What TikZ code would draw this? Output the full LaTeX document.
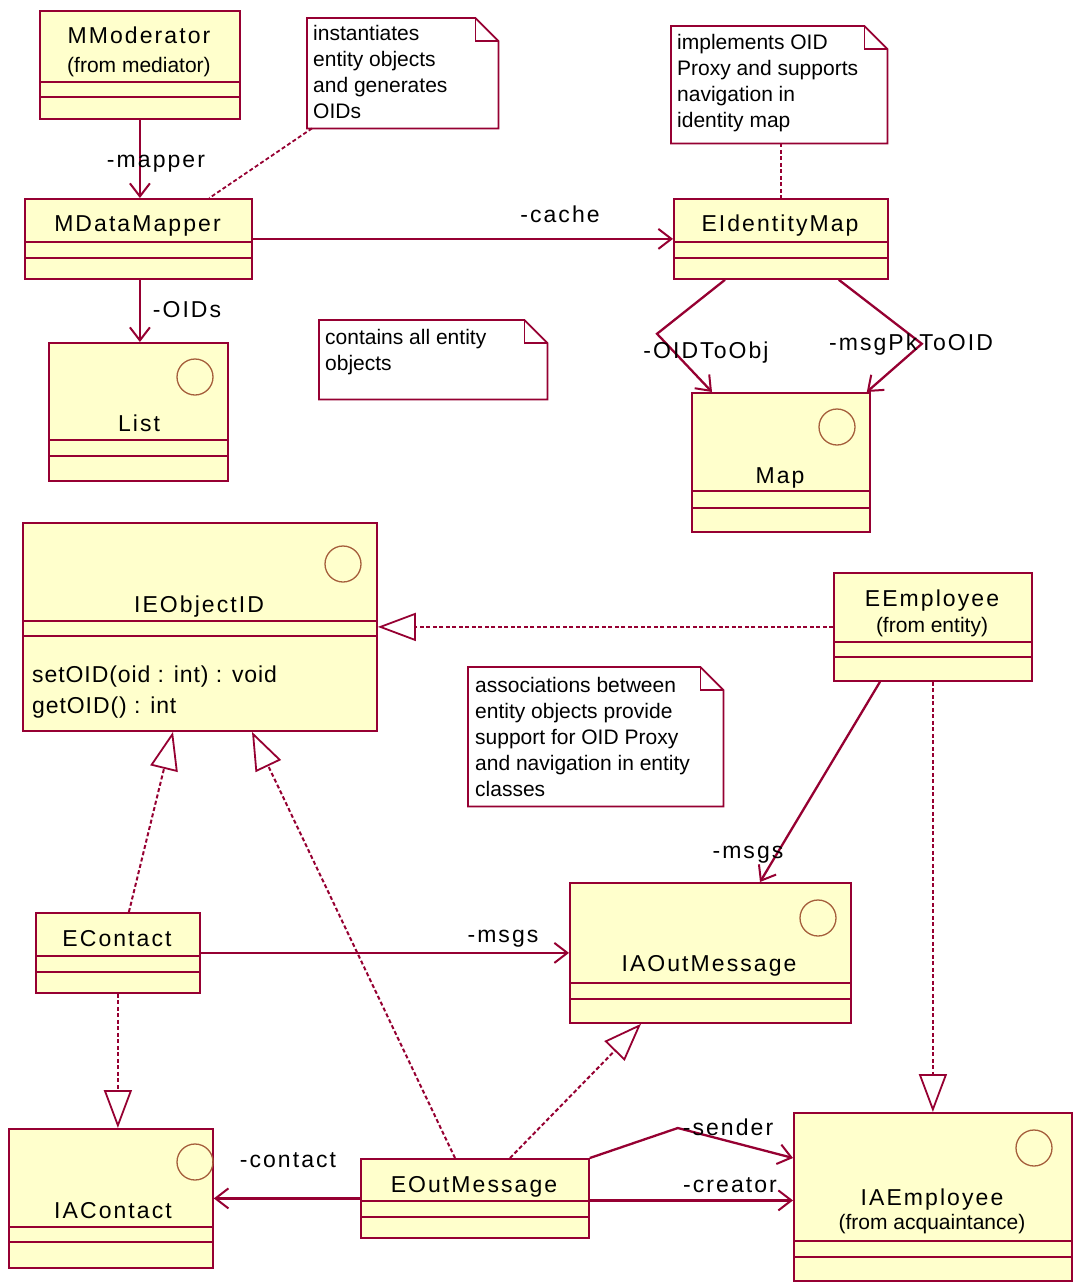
\documentclass[tikz,border=0pt]{standalone}
\usepackage{fontspec}
\setmainfont{Liberation Sans}
\newfontfamily\namefont[LetterSpace=9]{Liberation Sans}
\newfontfamily\opfont[LetterSpace=4]{Liberation Sans}
\usetikzlibrary{arrows.meta,calc}

\definecolor{umlred}{RGB}{150,0,50}
\definecolor{umlfill}{RGB}{255,255,204}
\definecolor{umlring}{RGB}{165,95,60}

\tikzset{
  classbox/.style={rectangle, draw=umlred, fill=umlfill, line width=1.8pt, inner sep=0pt, anchor=north west},
  notebox/.style={rectangle, fill=white, inner sep=0pt, anchor=north west},
  noteline/.style={draw=umlred, line width=1.8pt, line join=miter},
  comp/.style={draw=umlred, line width=1.5pt},
  ring/.style={draw=umlring, line width=1.3pt},
  title/.style={font=\namefont\fontsize{23}{27}\selectfont, inner sep=0pt, anchor=base},
  subtitle/.style={font=\fontsize{21}{25}\selectfont, inner sep=0pt, anchor=base},
  ops/.style={font=\opfont\fontsize{23}{27}\selectfont, inner sep=0pt, anchor=base west},
  notetext/.style={font=\fontsize{21}{26}\selectfont, inner sep=0pt, anchor=north west, align=left},
  role/.style={font=\namefont\fontsize{23}{27}\selectfont, inner sep=0pt, anchor=base},
  assoc/.style={draw=umlred, line width=2.3pt, -{Straight Barb[length=13pt,width=20pt,line width=2pt]}},
  realize/.style={draw=umlred, line width=2pt, dash pattern=on 4pt off 2.5pt,
    -{Triangle[open,length=38pt,width=28pt,line width=1.8pt]}},
  noteanchor/.style={draw=umlred, line width=1.8pt, dash pattern=on 4pt off 2.5pt},
}

% class box: name, x1, y1, x2, y2, y of first and second compartment line
\newcommand\umlclass[7]{%
  \node[classbox, minimum width={(#4-#2)*1pt}, minimum height={(#5-#3)*1pt}] (#1) at (#2,#3) {};
  \draw[comp] (#2,#6) -- (#4,#6) (#2,#7) -- (#4,#7);
}
% note with folded corner: name, x1, y1, x2, y2
\newcommand\umlnote[5]{%
  \node[notebox, minimum width={(#4-#2)*1pt}, minimum height={(#5-#3)*1pt}] (#1) at (#2,#3) {};
  \draw[noteline] (#1.north west) -- ([xshift=-23pt]#1.north east) -- ([yshift=-23pt]#1.north east)
    -- (#1.south east) -- (#1.south west) -- cycle;
  \draw[noteline] ([xshift=-23pt]#1.north east) -- ([xshift=-23pt,yshift=-23pt]#1.north east)
    -- ([yshift=-23pt]#1.north east);
}

\begin{document}
\begin{tikzpicture}[x=1pt,y=-1pt]
\fill[white] (0,0) rectangle (1076,1282);
\useasboundingbox (0,0) rectangle (1076,1282);

% ---------- classes ----------
\umlclass{mmod}{39}{10}{239}{118}{82}{97}
\node[title] (mmodt) at (139,43) {MModerator};
\node[subtitle] (mmods) at (139,72) {(from mediator)};

\umlclass{mdm}{24}{198}{251}{278}{242}{258}
\node[title] (mdmt) at (137.5,231) {MDataMapper};

\umlclass{eid}{673}{198}{887}{278}{242}{258}
\node[title] (eidt) at (780,231) {EIdentityMap};

\umlclass{list}{48}{342}{227}{480}{440}{456}
\draw[ring] (195,377) circle[radius=18pt];
\node[title] (listt) at (139,431) {List};

\umlclass{map}{691}{392}{869}{531}{491}{508}
\draw[ring] (837,427) circle[radius=18pt];
\node[title] (mapt) at (780,483) {Map};

\umlclass{ieo}{22}{522}{376}{730}{621}{636}
\draw[ring] (343,564) circle[radius=18pt];
\node[title] (ieot) at (199,612) {IEObjectID};
\node[ops] (ieoop1) at (32,682) {setOID(oid : int) : void};
\node[ops] (ieoop2) at (32,713) {getOID() : int};

\umlclass{eemp}{833}{572}{1031}{680}{642}{657}
\node[title] (eempt) at (932,606) {EEmployee};
\node[subtitle] (eemps) at (932,632) {(from entity)};

\umlclass{iaout}{569}{882}{850}{1022}{983}{999}
\draw[ring] (818,918) circle[radius=18pt];
\node[title] (iaoutt) at (709,971) {IAOutMessage};

\umlclass{econ}{35}{912}{199}{992}{956}{972}
\node[title] (econt) at (117,946) {EContact};

\umlclass{iacon}{8}{1128}{212}{1267}{1227}{1242}
\draw[ring] (195,1162) circle[radius=18pt];
\node[title] (iacont) at (113,1218) {IAContact};

\umlclass{eout}{360}{1158}{588}{1237}{1201}{1217}
\node[title] (eoutt) at (474,1192) {EOutMessage};

\umlclass{iaemp}{793}{1112}{1071}{1280}{1241}{1257}
\draw[ring] (1034,1148) circle[radius=18pt];
\node[title] (iaempt) at (932,1205) {IAEmployee};
\node[subtitle] (iaemps) at (932,1229) {(from acquaintance)};

% ---------- notes ----------
\umlnote{n1}{307}{18}{498}{128}
\node[notetext] (n1t) at (313,25) {instantiates\\entity objects\\and generates\\OIDs};
\umlnote{n2}{671}{26}{887}{143}
\node[notetext] (n2t) at (677,34) {implements OID\\Proxy and supports\\navigation in\\identity map};
\umlnote{n3}{319}{320}{547}{399}
\node[notetext] (n3t) at (325,329) {contains all entity\\objects};
\umlnote{n4}{468}{667}{723}{806}
\node[notetext] (n4t) at (475,677) {associations between\\entity objects provide\\support for OID Proxy\\and navigation in entity\\classes};

% ---------- note anchors ----------
\draw[noteanchor] ([xshift=5pt]n1.south west) -- ($(mdm.north west)!0.81!(mdm.north east)$);
\draw[noteanchor] ([xshift=2pt]n2.south) -- ([xshift=2pt]n2.south |- eid.north);

% ---------- associations ----------
\draw[assoc] (mmod.south) -- (mmod.south |- mdm.north);
\node[role] (lmapper) at (156,167) {-mapper};

\draw[assoc] (mdm.east) -- (eid.west);
\node[role] (lcache) at (560,222) {-cache};

\draw[assoc] ([xshift=1.5pt]mdm.south) -- ([xshift=1.5pt]mdm.south |- list.north);
\node[role] (loids) at (187,317) {-OIDs};

\draw[assoc] ([xshift=52pt]eid.south west) -- ++(-68,54) -- ([xshift=21pt]map.north west);
\node[role] (loidtoobj) at (706,358) {-OIDToObj};

\draw[assoc] ([xshift=-50pt]eid.south east) -- ++(83,64) -- ([xshift=-4pt]map.north east);
\node[role] (lmsgpk) at (911,350) {-msgPkToOID};

\draw[assoc] ([xshift=47pt]eemp.south west) -- ([xshift=191pt]iaout.north west);
\node[role] (lmsgs1) at (748,858) {-msgs};

\draw[assoc] (econ.east) -- (econ.east -| iaout.west);
\node[role] (lmsgs2) at (503,942) {-msgs};

\draw[assoc] (eout.west) -- (eout.west -| iacon.east);
\node[role] (lcontact) at (288,1167) {-contact};

\draw[assoc] (eout.north east) -- ++(88,-30) -- ([yshift=-46pt]iaemp.north west);
\node[role] (lsender) at (728,1135) {-sender};

\draw[assoc] ([yshift=-2pt]eout.east) -- ([yshift=-2pt]eout.east -| iaemp.west);
\node[role] (lcreator) at (730,1192) {-creator};

% ---------- realizations ----------
\draw[realize] (eemp.west) -- (eemp.west -| ieo.east);
\draw[realize] (eemp.south) -- (eemp.south |- iaemp.north);
\draw[realize] ([xshift=11pt]econ.north) -- ([xshift=151pt]ieo.south west);
\draw[realize] (econ.south) -- (econ.south |- iacon.north);
\draw[realize] ([xshift=95pt]eout.north west) -- ([xshift=230pt]ieo.south west);
\draw[realize] ([xshift=150pt]eout.north west) -- ([xshift=72pt]iaout.south west);
\end{tikzpicture}
\end{document}
